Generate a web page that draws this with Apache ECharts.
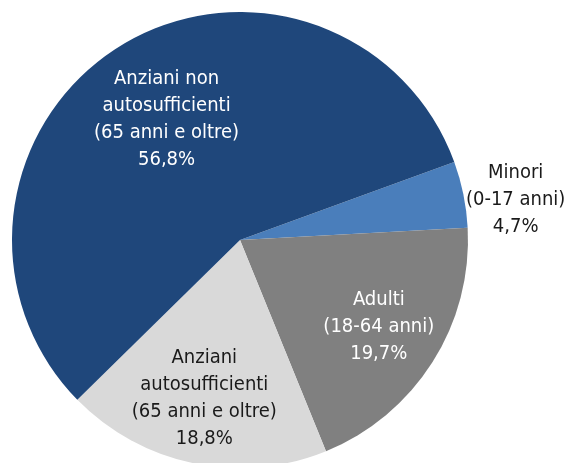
<!DOCTYPE html>
<html>
<head>
<meta charset="utf-8">
<script src="https://cdn.jsdelivr.net/npm/echarts@6/dist/echarts.min.js"></script>
<style>
  html, body { margin: 0; padding: 0; background: #fff; }
  #chart { width: 565px; height: 463px; }
</style>
</head>
<body>
<div id="chart"></div>
<script>
// data, clockwise from the top-right boundary
var categories = ["Minori\n(0-17 anni)", "Adulti\n(18-64 anni)", "Anziani\nautosufficienti\n(65 anni e oltre)", "Anziani non\nautosufficienti\n(65 anni e oltre)"];
var values = [4.7, 19.7, 18.8, 56.8];
var colors = ["#4a7ebb", "#808080", "#d9d9d9", "#1f477b"];
var textColors = ["#1a1a1a", "#ffffff", "#1a1a1a", "#ffffff"];
// label shift from the default inside position
var labelShift = [[161, -17], [40, 24], [-12, 44], [-11, -22]];

var chart = echarts.init(document.getElementById("chart"));
chart.setOption({
  animation: false,
  series: [{
    type: "pie",
    center: [240, 240],
    radius: [0, 228],
    startAngle: 20,
    clockwise: true,
    label: {
      show: true,
      position: "inside",
      fontFamily: "'DejaVu Sans Condensed', 'Liberation Sans', sans-serif",
      fontSize: 20,
      lineHeight: 27,
      align: "center",
      formatter: function (p) {
        return p.name + "\n" + p.value.toFixed(1).replace(".", ",") + "%";
      }
    },
    labelLine: { show: false },
    itemStyle: { borderWidth: 0 },
    emphasis: { disabled: true },
    labelLayout: function (p) {
      var s = labelShift[p.dataIndex];
      return { dx: s[0], dy: s[1] };
    },
    data: values.map(function (v, i) {
      return {
        name: categories[i],
        value: v,
        itemStyle: { color: colors[i] },
        label: { color: textColors[i] }
      };
    })
  }]
});
</script>
</body>
</html>
